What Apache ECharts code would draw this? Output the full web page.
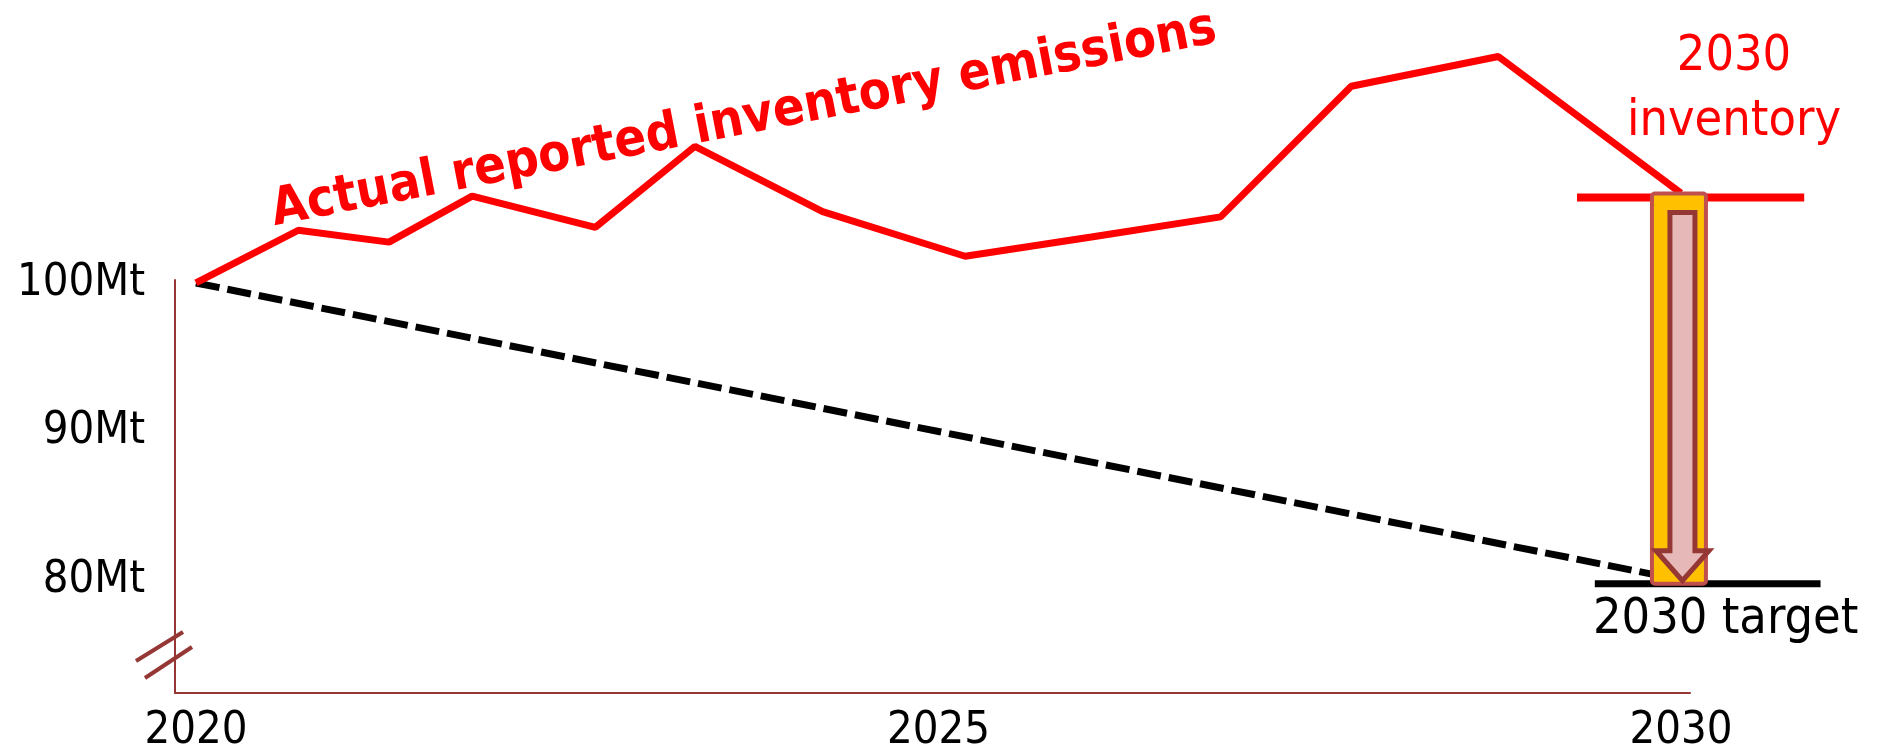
<!DOCTYPE html>
<html>
<head>
<meta charset="utf-8">
<script src="https://cdn.jsdelivr.net/npm/echarts@6/dist/echarts.min.js"></script>
<style>
html,body{margin:0;padding:0;background:#fff;}
#chart{width:1879px;height:756px;}
</style>
</head>
<body>
<div id="chart"></div>
<script>
// ---- data ----
const emissionYears = [2020, 2020.69, 2021.3, 2021.86, 2022.69, 2023.36, 2024.22, 2025.18, 2026.03, 2026.9, 2027.78, 2028.77, 2030];
const emissionValues = [100, 103.55, 102.75, 105.85, 103.75, 109.2, 104.8, 101.8, 103.1, 104.45, 113.25, 115.25, 106.05];
const trajectoryYears = [2020, 2030];
const trajectoryValues = [100, 80];
const inventory2030 = 105.75;
const target2030 = 79.75;
const inventoryLineYears = [2029.3, 2030.83];
const targetLineYears = [2029.42, 2030.94];
const xTickValues = [2020, 2025, 2030];
const yTickValues = [80, 90, 100];
const titleText = 'Actual reported inventory emissions';
const inventoryLabel = ['2030', 'inventory'];
const targetLabel = '2030 target';

const FONT = '"DejaVu Sans Condensed", "DejaVu Sans", sans-serif';
const AXIS_COLOR = '#953735';

// scale shared by the visible axes grid and the drawing grid
const X_MIN = 2019.859, X_MAX = 2030.061;
const Y_MIN = 72.39, Y_MAX = 100.2;
const G_LEFT = 175, G_RIGHT = 189, G_TOP = 280, G_BOTTOM = 63;
const W = 1879, H = 756;
const pxPerYear = (W - G_LEFT - G_RIGHT) / (X_MAX - X_MIN);
const pxPerMt = (H - G_TOP - G_BOTTOM) / (Y_MAX - Y_MIN);
const X_MAX2 = 2031.2, Y_MAX2 = 118;
const G2_RIGHT = W - G_LEFT - (X_MAX2 - X_MIN) * pxPerYear;
const G2_TOP = G_TOP - (Y_MAX2 - Y_MAX) * pxPerMt;

const chart = echarts.init(document.getElementById('chart'), null, {renderer: 'canvas'});

const option = {
  animation: false,
  backgroundColor: '#ffffff',
  grid: [
    {left: G_LEFT, right: G_RIGHT, top: G_TOP, bottom: G_BOTTOM, containLabel: false},
    {left: G_LEFT, right: G2_RIGHT, top: G2_TOP, bottom: G_BOTTOM, containLabel: false}
  ],
  xAxis: [
    {
      type: 'value', gridIndex: 0,
      min: X_MIN, max: X_MAX,
      splitLine: {show: false},
      axisTick: {show: false},
      axisLine: {show: true, onZero: false, lineStyle: {color: AXIS_COLOR, width: 2}},
      axisLabel: {
        customValues: xTickValues,
        formatter: v => String(Math.round(v)),
        color: '#000', fontSize: 45, fontFamily: FONT, margin: 16,
        showMinLabel: true, showMaxLabel: true
      }
    },
    {
      type: 'value', gridIndex: 1, show: false,
      min: X_MIN, max: X_MAX2
    }
  ],
  yAxis: [
    {
      type: 'value', gridIndex: 0,
      min: Y_MIN, max: Y_MAX,
      splitLine: {show: false},
      axisTick: {show: false},
      axisLine: {show: true, onZero: false, lineStyle: {color: AXIS_COLOR, width: 2}},
      axisLabel: {
        customValues: yTickValues,
        formatter: v => Math.round(v) + 'Mt',
        color: '#000', fontSize: 45, fontFamily: FONT, margin: 30
      }
    },
    {
      type: 'value', gridIndex: 1, show: false,
      min: Y_MIN, max: Y_MAX2
    }
  ],
  series: [
    {
      type: 'line',
      name: 'trajectory',
      xAxisIndex: 1, yAxisIndex: 1,
      data: trajectoryYears.map((y, i) => [y, trajectoryValues[i]]),
      symbol: 'none',
      clip: false,
      z: 2,
      lineStyle: {color: '#000', width: 7, type: [24, 8], cap: 'butt'}
    },
    {
      type: 'line',
      name: 'inventory emissions',
      xAxisIndex: 1, yAxisIndex: 1,
      data: emissionYears.map((y, i) => [y, emissionValues[i]]),
      symbol: 'none',
      clip: false,
      z: 3,
      lineStyle: {color: '#FF0000', width: 7, join: 'bevel'}
    },
    {
      type: 'line',
      name: '2030 inventory',
      xAxisIndex: 1, yAxisIndex: 1,
      data: inventoryLineYears.map(y => [y, inventory2030]),
      symbol: 'none',
      clip: false,
      z: 3,
      lineStyle: {color: '#FF0000', width: 8, cap: 'butt'}
    },
    {
      type: 'line',
      name: '2030 target',
      xAxisIndex: 1, yAxisIndex: 1,
      data: targetLineYears.map(y => [y, target2030]),
      symbol: 'none',
      clip: false,
      z: 3,
      lineStyle: {color: '#000', width: 7, cap: 'butt'}
    },
    {
      type: 'custom',
      name: 'gap',
      xAxisIndex: 1, yAxisIndex: 1,
      clip: false,
      z: 10,
      data: [[2030, inventory2030, target2030]],
      renderItem: function (params, api) {
        const x = api.value(0);
        const pTop = api.coord([x, api.value(1)]);
        const pBot = api.coord([x, api.value(2)]);
        const cx = pTop[0];
        const yT = pTop[1] - 4;
        const yB = pBot[1];
        return {
          type: 'group',
          children: [
            {
              type: 'rect',
              shape: {x: cx - 29, y: yT, width: 54, height: yB - yT, r: 3},
              style: {fill: '#FFC000', stroke: '#C0504D', lineWidth: 4}
            },
            {
              type: 'polygon',
              shape: {points: [
                [cx - 11, yT + 19], [cx + 14, yT + 19], [cx + 14, yB - 33],
                [cx + 28, yB - 33], [cx + 1.5, yB - 3], [cx - 25, yB - 33], [cx - 11, yB - 33]
              ]},
              style: {fill: '#E6B9B8', stroke: '#953735', lineWidth: 5, lineJoin: 'miter'}
            }
          ]
        };
      }
    }
  ],
  graphic: [
    {
      type: 'text',
      x: 272, y: 212,
      rotation: 0.192,
      z: 20,
      style: {text: titleText, font: 'bold 52px ' + FONT, fill: '#FF0000', align: 'left', verticalAlign: 'middle'}
    },
    {
      type: 'text', x: 1734, y: 57, z: 20,
      style: {text: inventoryLabel[0], font: '50px ' + FONT, fill: '#FF0000', align: 'center', verticalAlign: 'middle'}
    },
    {
      type: 'text', x: 1734, y: 122, z: 20,
      style: {text: inventoryLabel[1], font: '50px ' + FONT, fill: '#FF0000', align: 'center', verticalAlign: 'middle'}
    },
    {
      type: 'text', x: 1593, y: 620, z: 20,
      style: {text: targetLabel, font: '50px ' + FONT, fill: '#000', align: 'left', verticalAlign: 'middle'}
    },
    {
      type: 'line', z: 20,
      shape: {x1: 136, y1: 661, x2: 183, y2: 632},
      style: {stroke: AXIS_COLOR, lineWidth: 4}
    },
    {
      type: 'line', z: 20,
      shape: {x1: 145, y1: 678, x2: 192, y2: 647},
      style: {stroke: AXIS_COLOR, lineWidth: 4}
    }
  ]
};
chart.setOption(option);
</script>
</body>
</html>
